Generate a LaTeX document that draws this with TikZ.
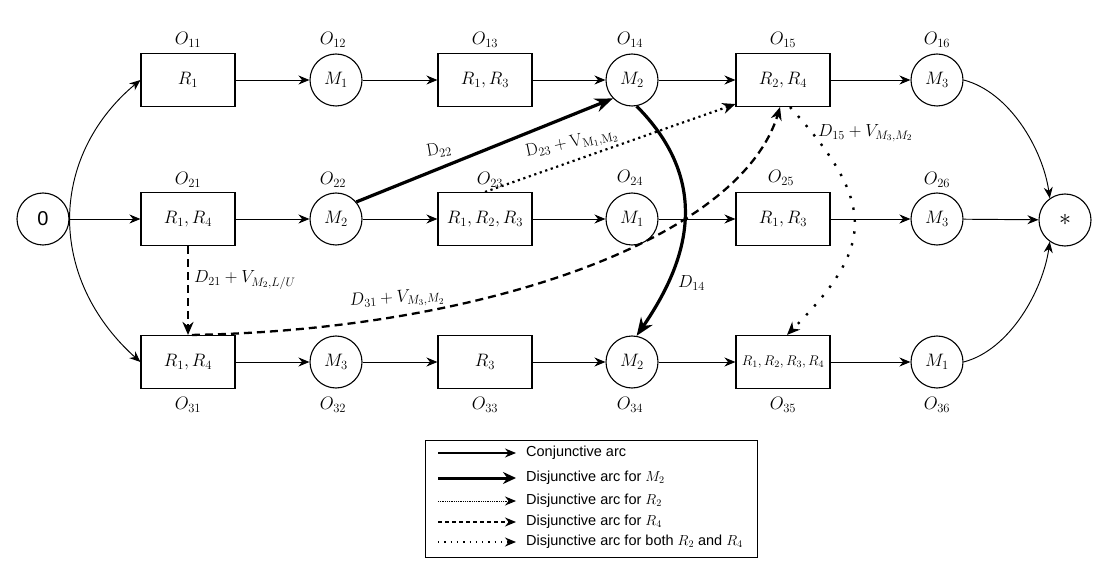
\RequirePackage{fix-cm}
\documentclass[tikz,border=0pt]{standalone}
\usepackage{fontspec}
\newfontfamily\legfont{Liberation Sans}
\usetikzlibrary{arrows.meta,calc}
\newcommand\mfont{\fontsize{18}{20}\selectfont}
\newcommand\dfont{\fontsize{17.5}{19}\selectfont}
\newcommand\sfont{\fontsize{14}{16}\selectfont}
\newcommand\lgfont{\legfont\fontsize{14.5}{16}\selectfont}
\tikzset{
  opbox/.style={draw, line width=1.1pt, minimum width=94pt, minimum height=53pt, inner sep=0pt, font=\mfont},
  opcirc/.style={draw, circle, line width=1.1pt, minimum size=52pt, inner sep=0pt, font=\mfont},
  olab/.style={font=\mfont, inner sep=1pt},
  dlab/.style={font=\dfont, inner sep=1pt},
  conj/.style={line width=0.95pt, -{Stealth[length=11pt,width=9pt]}},
  thickarc/.style={line width=3.2pt, -{Stealth[length=18pt,width=14pt]}},
  dotarc/.style={line width=2.2pt, dash pattern=on 2.2pt off 3.6pt, -{Stealth[length=13pt,width=11pt]}},
  dasharc/.style={line width=2.3pt, dash pattern=on 8pt off 5pt, -{Stealth[length=13pt,width=11pt]}},
  ldotarc/.style={line width=2.4pt, dash pattern=on 2.4pt off 9.6pt, -{Stealth[length=13pt,width=11pt]}},
}
\begin{document}
\begin{tikzpicture}[x=1pt,y=-1pt]
\useasboundingbox (0,0) rectangle (1111,577);
\fill[white] (0,0) rectangle (1111,577);

% start and end
\node[opcirc, font={\legfont\fontsize{20}{22}\selectfont}] (start) at (43,219) {0};
\node[opcirc, font=\fontsize{24}{26}\selectfont] (end) at (1065,220) {$*$};

% row 1
\node[opbox]  (O11) at (188,80) {$R_1$};
\node[opcirc] (O12) at (336,80) {$M_1$};
\node[opbox]  (O13) at (485,80) {$R_1,R_3$};
\node[opcirc] (O14) at (632,80) {$M_2$};
\node[opbox]  (O15) at (783,80) {$R_2,R_4$};
\node[opcirc] (O16) at (937,80) {$M_3$};
% row 2
\node[opbox]  (O21) at (188,219) {$R_1,R_4$};
\node[opcirc] (O22) at (336,219) {$M_2$};
\node[opbox]  (O23) at (485,219) {$R_1,R_2,R_3$};
\node[opcirc] (O24) at (632,219) {$M_1$};
\node[opbox]  (O25) at (783,219) {$R_1,R_3$};
\node[opcirc] (O26) at (937,219) {$M_3$};
% row 3
\node[opbox]  (O31) at (188,362) {$R_1,R_4$};
\node[opcirc] (O32) at (336,362) {$M_3$};
\node[opbox]  (O33) at (485,362) {$R_3$};
\node[opcirc] (O34) at (632,362) {$M_2$};
\node[opbox, font=\sfont] (O35) at (783,362) {$R_1,R_2,R_3,R_4$};
\node[opcirc] (O36) at (937,362) {$M_1$};

% operation labels
\node[olab] (l11) at (188,40) {$O_{11}$};
\node[olab] (l12) at (333,40) {$O_{12}$};
\node[olab] (l13) at (485,40) {$O_{13}$};
\node[olab] (l14) at (630,40) {$O_{14}$};
\node[olab] (l15) at (783,40) {$O_{15}$};
\node[olab] (l16) at (937,40) {$O_{16}$};
\node[olab] (l21) at (188,180) {$O_{21}$};
\node[olab] (l22) at (333,180) {$O_{22}$};
\node[olab] (l23) at (490,180) {$O_{23}$};
\node[olab] (l24) at (630,178) {$O_{24}$};
\node[olab] (l25) at (781,178) {$O_{25}$};
\node[olab] (l26) at (937,180) {$O_{26}$};
\node[olab] (l31) at (188,405) {$O_{31}$};
\node[olab] (l32) at (333,405) {$O_{32}$};
\node[olab] (l33) at (485,405) {$O_{33}$};
\node[olab] (l34) at (630,405) {$O_{34}$};
\node[olab] (l35) at (783,405) {$O_{35}$};
\node[olab] (l36) at (937,405) {$O_{36}$};

% conjunctive arcs
\draw[conj] (start.east) .. controls (70,150) and (110,105) .. (O11.west);
\draw[conj] (start) -- (O21);
\draw[conj] (start.east) .. controls (70,288) and (110,335) .. (O31.west);
\foreach \r in {1,2,3}{
  \draw[conj] (O\r1) -- (O\r2);
  \draw[conj] (O\r2) -- (O\r3);
  \draw[conj] (O\r3) -- (O\r4);
  \draw[conj] (O\r4) -- (O\r5);
  \draw[conj] (O\r5) -- (O\r6);
}
\draw[conj] (O16.east) .. controls (1010,92) and (1043,150) .. (end.125);
\draw[conj] (O26) -- (end);
\draw[conj] (O36.east) .. controls (1010,350) and (1043,290) .. (end.235);

% disjunctive arcs
\draw[thickarc] (O22.40) -- (O14.224);
\draw[thickarc] (O14.-80) .. controls (716,186) and (684,267) .. (O34.80);
\draw[dotarc] (O23.north) -- ($(O15.south west)+(0,-3)$);
\draw[dasharc] (O21.south) -- (O31.north);
\draw[dasharc] ($(O31.north)+(4,0)$) .. controls (480,330) and (740,240) .. ($(O15.south)+(-3,0)$);
\draw[ldotarc] ($(O15.south)+(7,0)$) .. controls (879,205) and (873,248) .. ($(O35.north)+(4,0)$);

% arc labels
\node[dlab, rotate=10] (d22) at (439,150) {$\mathrm{D}_{22}$};
\node[dlab, rotate=12, anchor=south west] (d23) at (527,163) {$\mathrm{D}_{23}+\mathrm{V}_{\mathrm{M}_1,\mathrm{M}_2}$};
\node[dlab, anchor=west] (d21) at (193,280) {$D_{21}+V_{M_2,L/U}$};
\node[dlab, rotate=4] (d31) at (397,299) {$D_{31}+V_{M_3,M_2}$};
\node[dlab, anchor=west] (d14) at (677,283) {$D_{14}$};
\node[dlab, anchor=west] (d15) at (817,133) {$D_{15}+V_{M_3,M_2}$};

% legend
\draw[line width=1pt] (425,440) rectangle (757,557);
\foreach \i/\y in {1/453,2/478,3/501,4/522,5/542}{
  \coordinate (la\i) at (438,\y);
  \coordinate (lb\i) at (516,\y);
}
\draw[line width=1.1pt, -{Stealth[length=11pt,width=9pt]}] (la1) -- (lb1);
\draw[line width=3pt, -{Stealth[length=13pt,width=12pt]}] (la2) -- (lb2);
\draw[line width=1pt, dash pattern=on 1pt off 0.8pt, -{Stealth[length=11pt,width=9pt]}] (la3) -- (lb3);
\draw[line width=1.3pt, dash pattern=on 4pt off 3pt, -{Stealth[length=11pt,width=9pt]}] (la4) -- (lb4);
\draw[line width=1.3pt, dash pattern=on 1.3pt off 5pt, -{Stealth[length=11pt,width=9pt]}] (la5) -- (lb5);
\node[anchor=west, font=\lgfont, inner sep=0pt] (t1) at (526,453) {Conjunctive arc};
\node[anchor=west, font=\lgfont, inner sep=0pt] (t2) at (526,478) {Disjunctive arc for $M_2$};
\node[anchor=west, font=\lgfont, inner sep=0pt] (t3) at (526,501) {Disjunctive arc for $R_2$};
\node[anchor=west, font=\lgfont, inner sep=0pt] (t4) at (526,522) {Disjunctive arc for $R_4$};
\node[anchor=west, font=\lgfont, inner sep=0pt] (t5) at (526,542) {Disjunctive arc for both $R_2$ and $R_4$};
\end{tikzpicture}
\end{document}
